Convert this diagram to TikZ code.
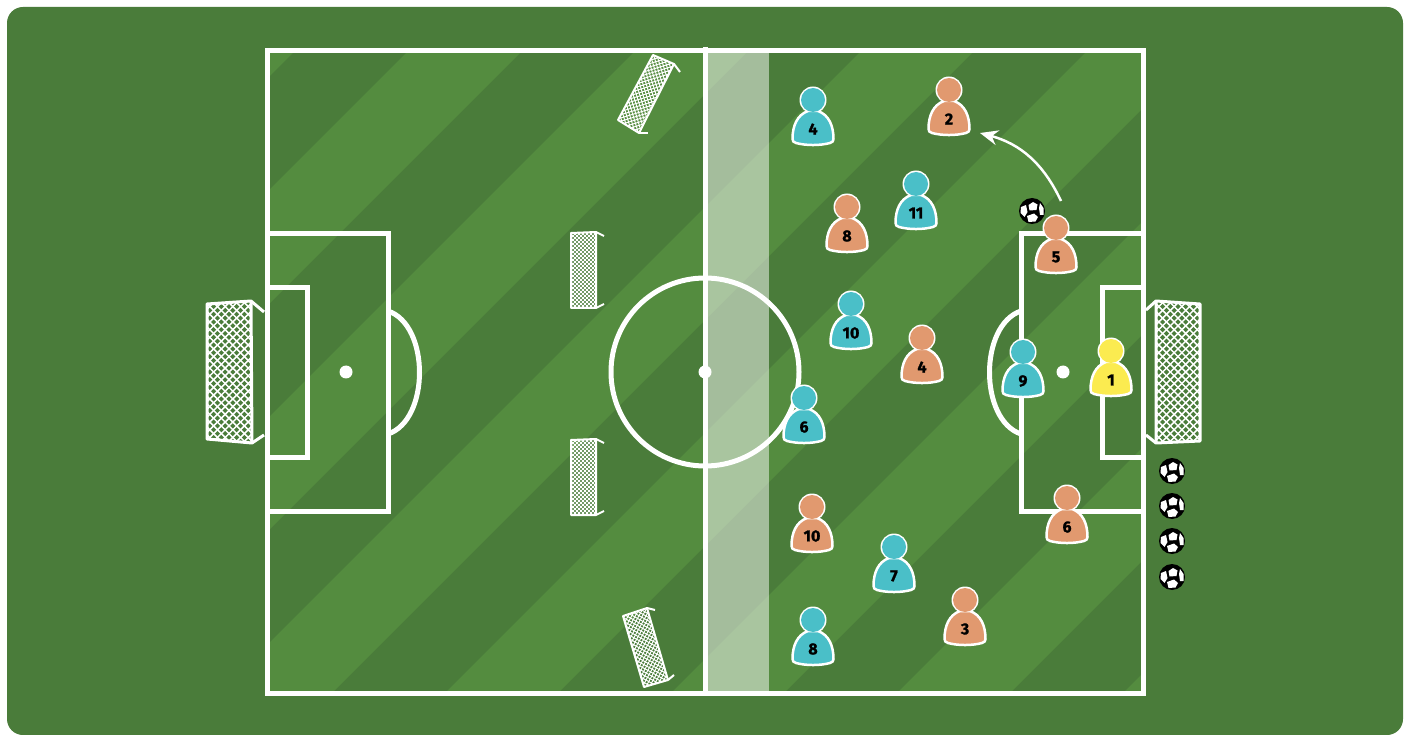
\documentclass[tikz,border=0pt]{standalone}
\usepackage{fontspec}
\usepackage{xcolor}
\usetikzlibrary{arrows.meta}
\newfontfamily\numfont{Fira Sans Bold}[FakeBold=1.2]
\definecolor{gramaesc}{RGB}{74,124,58}
\definecolor{gramacla}{RGB}{84,140,63}
\definecolor{ciano}{RGB}{74,191,200}
\definecolor{laranja}{RGB}{225,153,111}
\definecolor{amarelo}{RGB}{251,235,80}

% jogador: nome, x, y (centro da cabeca), cor, numero
\newcommand{\jogador}[5]{
  \begin{scope}[shift={(#2,#3)}]
    \fill[white] (0,0) circle (13.5);
    \draw[corpo, fill=#4] (-20.5,39) .. controls (-20.5,26) and (-16,15) .. (-5,11) -- (5,11)
      .. controls (16,15) and (20.5,26) .. (20.5,39) .. controls (20.5,41.5) and (19.5,42) .. (17,43)
      .. controls (7,45.7) and (-7,45.7) .. (-17,43) .. controls (-19.5,42) and (-20.5,41.5) .. (-20.5,39) -- cycle;
    \node[cabeca, fill=#4] (#1) at (0,0) {};
    \node[numero] (#1num) at (0,29) {#5};
  \end{scope}
}

% bola: nome, x, y
\newcommand{\bola}[3]{
  \node[bolanode] (#1) at (#2,#3) {};
  \begin{scope}[shift={(#2,#3)}]
    \fill[white] (-3.5,-6) -- (1,-9) -- (5.5,-6.5) -- (4.5,-1) -- (-2.5,-0.5) -- cycle;
    \fill[white] (-11,-4) -- (-6,-6) -- (-4.5,1) -- (-7.5,6) -- (-11.5,2) -- cycle;
    \fill[white] (-5,5) -- (2,2.5) -- (6,6) -- (3.5,10.5) -- (-3.5,11) -- cycle;
    \fill[white] (8,-8) -- (11.5,-3) -- (11.5,4) -- (8,4) -- (7,-3) -- cycle;
  \end{scope}
}

% gol: estilo, passo da rede, posicao da rede, quatro cantos, duas pontas
\newcommand{\gol}[9]{
  \begin{scope}
    \clip #4 -- #5 -- #6 -- #7 -- cycle;
    \begin{scope}[#3]
      \foreach \k in {-16,...,16} {
        \draw[#1, rede] ({\k*#2-100},-100) -- ({\k*#2+100},100);
        \draw[#1, rede] ({\k*#2-100},100) -- ({\k*#2+100},-100);
      }
    \end{scope}
  \end{scope}
  \draw[#1] #4 -- #5 -- #6 -- #7 -- cycle;
  \draw[#1] #5 -- #8;
  \draw[#1] #6 -- #9;
}

\begin{document}
\begin{tikzpicture}[
  x=1pt, y=-1pt,
  linha/.style={white, line width=5pt},
  corpo/.style={white, line width=2.5pt, line join=round},
  cabeca/.style={circle, minimum size=24pt, inner sep=0pt, draw=none},
  numero/.style={inner sep=0pt, font=\numfont\fontsize{16}{16}\selectfont, text=black},
  bolanode/.style={circle, minimum size=26pt, inner sep=0pt, fill=black, draw=none},
  golgrande/.style={white, line width=3pt, line join=round},
  golpequeno/.style={white, line width=2pt, line join=round},
  rede/.style={line width=0.5*\pgflinewidth},
  passe/.style={-{Stealth[length=18pt, width=15pt]}, white, line width=2.5pt}
]
\useasboundingbox (0,0) rectangle (1409,735);
\fill[white] (0,0) rectangle (1409,735);
\fill[gramaesc, rounded corners=16pt] (7,7) rectangle (1403,735);

% listras do campo
\begin{scope}
  \clip (267,51) rectangle (1143,693);
  \foreach \a/\b in {233/346,459/573,686/799,912/1025,1138/1251,1364/1477,1590/1703,1816/1930} {
    \fill[gramacla] ({\a-51},51) -- ({\b-51},51) -- ({\b-693},693) -- ({\a-693},693) -- cycle;
  }
\end{scope}

% faixa clara
\fill[white, opacity=0.5] (707,53) rectangle (769,691);

% linhas
\draw[linha] (267,51) rectangle (1143,693);
\draw[linha] (705,47) -- (705,695);
\draw[linha] (705,372) circle (94);
\fill[white] (705,372) circle (6.5);
\draw[linha] (267,234) rectangle (388,511);
\draw[linha] (267,288) rectangle (307,457);
\fill[white] (346,372) circle (6.5);
\draw[linha] (388,311) .. controls (430,325) and (430,420) .. (388,434);
\draw[linha] (1021,234) rectangle (1143,511);
\draw[linha] (1102,288) rectangle (1143,457);
\fill[white] (1063,372) circle (6.5);
\draw[linha] (1021,311) .. controls (979,325) and (979,420) .. (1021,434);

% gols grandes
\gol{golgrande}{7.7}{shift={(229,372)}}{(207,304)}{(251,301)}{(252,443)}{(207,439)}{(264,312)}{(264,435)}
\gol{golgrande}{7.7}{shift={(1178,372)}}{(1200,304)}{(1156,301)}{(1156,443)}{(1200,441)}{(1146,310)}{(1146,435)}

% gols pequenos
\gol{golpequeno}{4}{shift={(583,270)}}{(571,233)}{(596,232)}{(596,308)}{(571,308)}{(604,236)}{(604,304)}
\gol{golpequeno}{4}{shift={(583,477)}}{(571,440)}{(596,439)}{(596,515)}{(571,515)}{(604,443)}{(604,511)}
\gol{golpequeno}{4.4}{shift={(646,94)},rotate=-28}{(653,55)}{(674,64)}{(639,133)}{(618,120)}{(680,72)}{(648,133)}
\gol{golpequeno}{4.4}{shift={(646,648)},rotate=16}{(623,616)}{(647,608)}{(668,680)}{(644,687)}{(655,610)}{(674,675)}

% bolas
\bola{bolapasse}{1032}{211}
\foreach \n/\y in {1/471,2/506,3/541,4/577} {
  \bola{bolafora\n}{1172}{\y}
}

% time azul
\jogador{cia4}{813}{100}{ciano}{4}
\jogador{cia11}{916}{184}{ciano}{11}
\jogador{cia10}{851}{304}{ciano}{10}
\jogador{cia6}{804}{398}{ciano}{6}
\jogador{cia9}{1023}{352}{ciano}{9}
\jogador{cia7}{894}{547}{ciano}{7}
\jogador{cia8}{813}{620}{ciano}{8}

% time laranja
\jogador{lar2}{949}{90}{laranja}{2}
\jogador{lar8}{847}{207}{laranja}{8}
\jogador{lar5}{1056}{228}{laranja}{5}
\jogador{lar4}{922}{338}{laranja}{4}
\jogador{lar10}{812}{507}{laranja}{10}
\jogador{lar6}{1067}{498}{laranja}{6}
\jogador{lar3}{965}{600}{laranja}{3}

% goleiro
\jogador{goleiro}{1111}{351}{amarelo}{1}

% passe
\coordinate (passeini) at (1061,201);
\coordinate (passefim) at (980,133);
\draw[passe] (passeini) to[bend right=25] (passefim);

\end{tikzpicture}
\end{document}
